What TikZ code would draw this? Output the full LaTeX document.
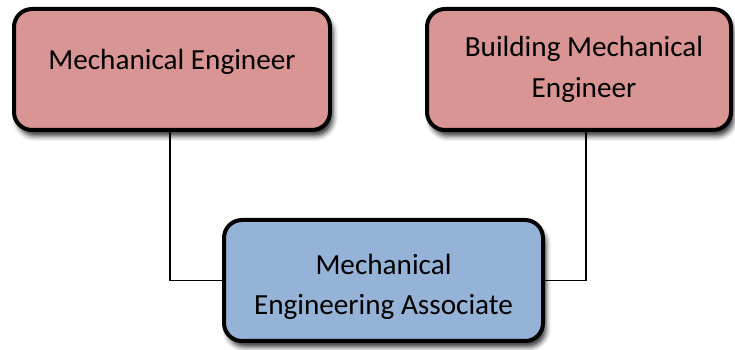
\documentclass[tikz,border=0pt]{standalone}
\usepackage{fontspec}
\setmainfont{Carlito}
\usetikzlibrary{shadows.blur}
\definecolor{rolepink}{HTML}{D99594}
\definecolor{roleblue}{HTML}{95B3D7}
\begin{document}
\begin{tikzpicture}[x=1pt,y=1pt,
    rolebox/.style={draw=black, line width=4pt, rounded corners=18pt,
      minimum height=121pt, align=center, inner sep=0pt,
      font=\fontsize{29.2}{40.5}\selectfont,
      blur shadow={shadow xshift=3pt, shadow yshift=-6pt,
        shadow blur radius=5pt, shadow opacity=80}},
    link/.style={draw=black, line width=1.5pt}]
  \useasboundingbox (0,0) rectangle (735,350);
  % the three roles
  \node[rolebox, fill=rolepink, minimum width=316pt,
        text height=20pt, text depth=19pt] (mecheng) at (172,280.5) {Mechanical Engineer};
  \node[rolebox, fill=rolepink, minimum width=304pt] (bldgeng) at (579,280.5)
        {\hspace*{10pt}Building Mechanical\\\hspace*{10pt}Engineer};
  \node[rolebox, fill=roleblue, minimum width=319pt,
        text height=75pt, text depth=6pt] (assoc) at (383.5,69.5)
        {Mechanical\\Engineering Associate};
  % connectors
  \draw[link] ([xshift=-2pt]mecheng.south) |- (assoc.west);
  \draw[link] ([xshift=7pt]bldgeng.south) |- (assoc.east);
\end{tikzpicture}
\end{document}
